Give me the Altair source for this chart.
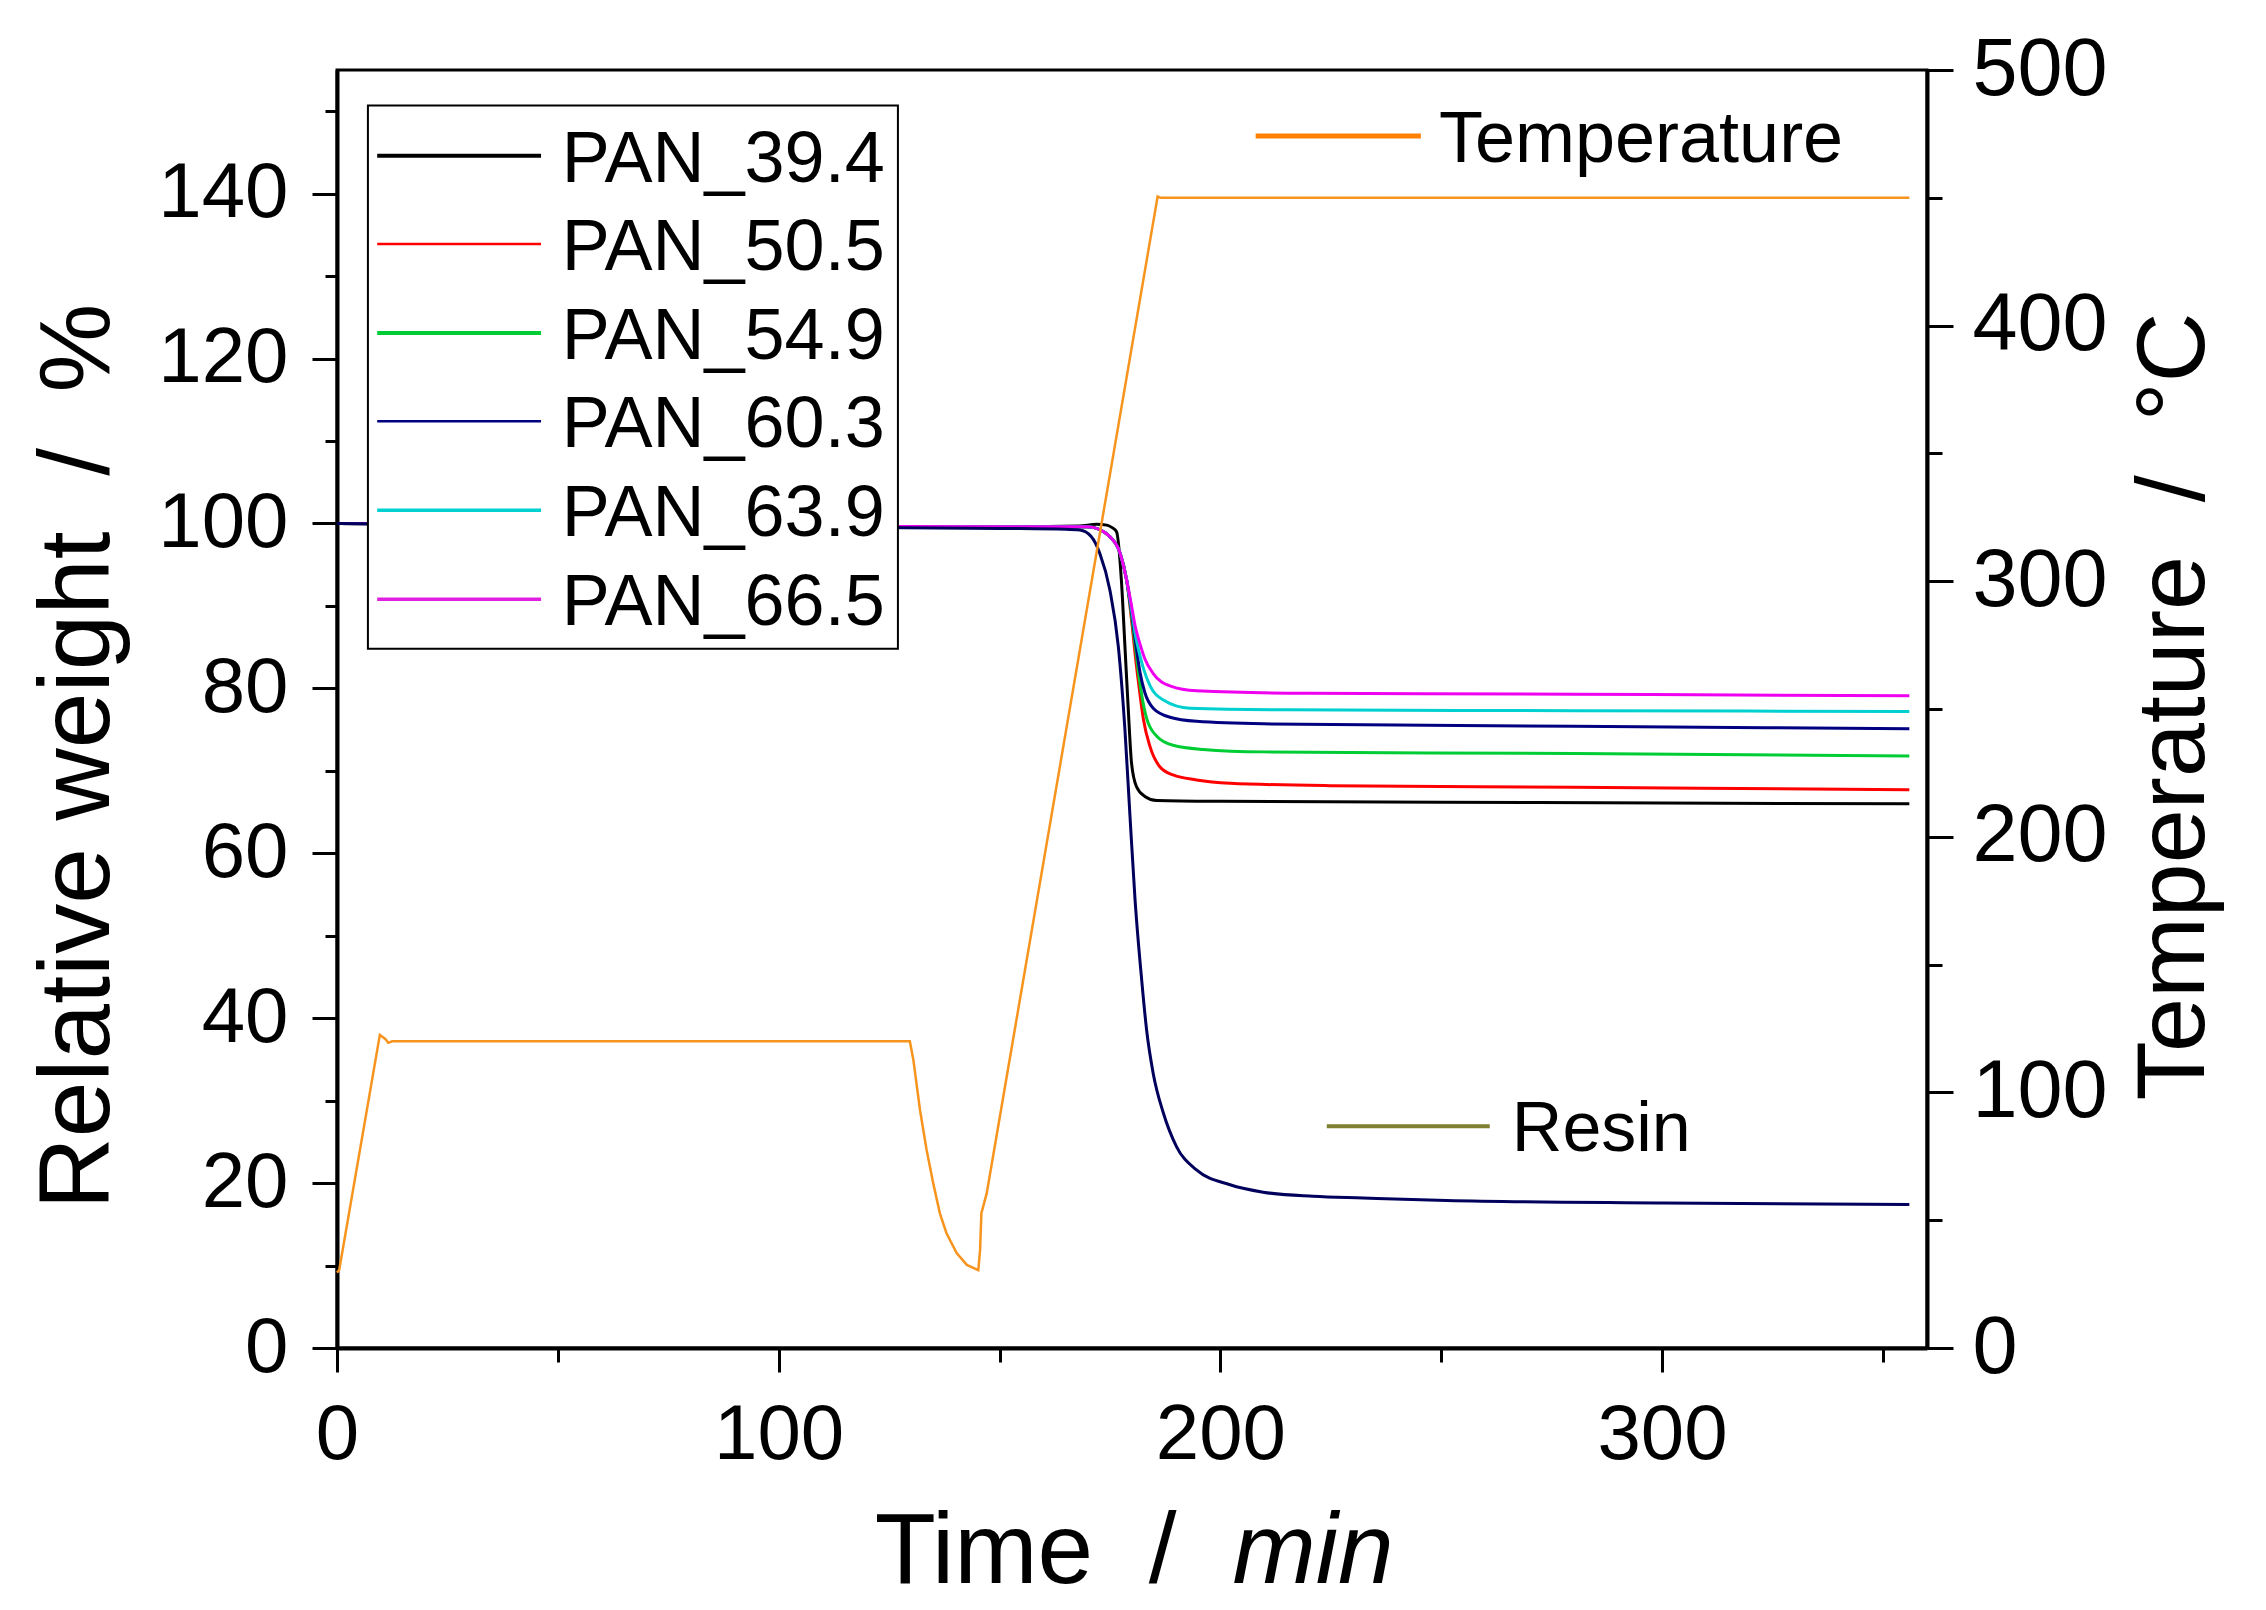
import altair as alt
import pandas as pd

# ---------------- data ----------------
series_names = ["PAN_39.4", "PAN_50.5", "PAN_54.9", "PAN_60.3", "PAN_63.9", "PAN_66.5", "Resin"]
series_colors = ["#000000", "#FF0000", "#00CC33", "#000080", "#00D0D0", "#F000F0", "#00005C"]

t_pan394 = [0, 40, 100, 150, 168, 172, 174.3, 175.5, 176.5, 177.6, 178.4, 179.2, 179.9, 181.0, 182.9, 185.6, 200, 250, 300, 356]
w_pan394 = [100, 99.9, 99.7, 99.6, 99.7, 99.9, 99.8, 99.5, 99.0, 93.1, 85.1, 77.0, 70.9, 68.1, 66.9, 66.4, 66.3, 66.2, 66.1, 66.0]

t_common = [0, 40, 100, 150, 170, 172.5, 175.0, 177.3, 178.8]
w_common = [100, 99.9, 99.7, 99.6, 99.6, 99.3, 98.4, 96.4, 93.1]

t_pan505 = [179.9, 180.7, 181.8, 182.6, 184.1, 186.3, 189.3, 194.6, 202.2, 224.8, 280, 356]
w_pan505 = [88.3, 84.2, 79.3, 76.2, 72.9, 70.5, 69.5, 68.9, 68.5, 68.2, 68.0, 67.7]

t_pan549 = [179.9, 180.7, 181.5, 182.2, 183.3, 185.6, 189.3, 196.1, 209.7, 280, 356]
w_pan549 = [88.8, 85.3, 81.8, 79.2, 76.4, 74.2, 73.1, 72.6, 72.3, 72.1, 71.8]

t_pan603 = [179.9, 180.7, 181.8, 182.9, 184.8, 188.6, 194.6, 209.7, 280, 356]
w_pan603 = [89.2, 86.0, 82.0, 79.5, 77.6, 76.5, 76.0, 75.7, 75.4, 75.1]

t_pan639 = [179.9, 180.7, 181.6, 182.6, 184.1, 187.1, 193.1, 215, 280, 356]
w_pan639 = [89.6, 86.7, 84.4, 82.4, 80.3, 78.6, 77.6, 77.4, 77.3, 77.2]

t_pan665 = [179.9, 180.7, 181.8, 182.9, 184.8, 188.6, 194.6, 220, 280, 356]
w_pan665 = [90.0, 87.6, 85.4, 83.6, 81.8, 80.3, 79.7, 79.4, 79.3, 79.1]

t_resin = [0, 40, 100, 150, 165, 168.2, 170.8, 172.7, 175.0, 176.9, 178.4, 179.5, 180.7, 182.2, 183.3, 184.8,
           187.1, 190.1, 194.6, 202.2, 209.7, 221.0, 232.3, 251.2, 300, 356]
w_resin = [100, 99.8, 99.6, 99.4, 99.3, 99.2, 98.4, 96.4, 91.9, 85.1, 75.0, 64.9, 54.3, 44.6, 38.6, 33.3,
           28.5, 24.4, 21.6, 19.8, 18.9, 18.4, 18.2, 17.9, 17.6, 17.4]

t_temp = [0, 0.5, 9.7, 11.0, 11.6, 12.5, 129.7, 130.5, 132.0, 133.5, 135.0, 136.5, 138.0, 140.3, 142.6, 145.2,
          145.6, 145.9, 147.1, 185.8, 186.5, 356]
temp_c = [29.5, 30.5, 122.5, 120.8, 119.4, 120.0, 120.0, 112.7, 93.1, 77.5, 64.4, 52.7, 44.9, 37.1, 32.5, 30.5,
          38.3, 52.7, 60.5, 450.5, 450.0, 450.0]

x_ticks = [0, 50, 100, 150, 200, 250, 300, 350]
yl_ticks = list(range(0, 151, 10))
yr_ticks = list(range(0, 501, 50))

# ---------------- tables ----------------
rows = []
def add(name, ts, ws):
    for t, w in zip(ts, ws):
        rows.append({"series": name, "t": t, "w": w})

add("PAN_39.4", t_pan394, w_pan394)
add("PAN_50.5", t_common + t_pan505, w_common + w_pan505)
add("PAN_54.9", t_common + t_pan549, w_common + w_pan549)
add("PAN_60.3", t_common + t_pan603, w_common + w_pan603)
add("PAN_63.9", t_common + t_pan639, w_common + w_pan639)
add("PAN_66.5", t_common + t_pan665, w_common + w_pan665)
add("Resin", t_resin, w_resin)
df_w = pd.DataFrame(rows)
df_t = pd.DataFrame({"t": t_temp, "T": temp_c})

# legend (placed in data units of the time / weight scales)
leg_names = series_names[:6]
leg_colors = series_colors[:5] + ["#E020E0"]
leg_rows = [144.6, 133.9, 123.1, 112.4, 101.6, 90.8]
leg_widths = [4, 2.5, 4, 2.5, 3.5, 3.5]
df_leg = pd.DataFrame({"name": leg_names, "color": leg_colors, "y": leg_rows, "sw": leg_widths,
                       "x1": 9.1, "x2": 46.2, "xt": 50.9})
df_box = pd.DataFrame({"x1": [7.0], "x2": [127.0], "y1": [84.8], "y2": [150.7]})
df_extra = pd.DataFrame({"name": ["Temperature", "Resin"], "color": ["#FF8000", "#7F7F30"],
                         "y": [147.0, 26.9], "x1": [208.0, 224.1], "x2": [245.4, 261.0],
                         "xt": [249.5, 266.0], "sw": [5, 4], "fs": [72, 70]})

FONT = "Liberation Sans"
XDOM = [0, 360]
WDOM = [0, 155]
TDOM = [0, 500]


def xs(field, axis=None):
    return alt.X(field, type="quantitative", scale=alt.Scale(domain=XDOM, nice=False, zero=False), axis=axis)


def ys(field, axis=None, dom=WDOM):
    return alt.Y(field, type="quantitative", scale=alt.Scale(domain=dom, nice=False, zero=False), axis=axis)


x_axis = alt.Axis(orient="bottom", values=x_ticks,
                  labelExpr="datum.value % 100 === 0 ? datum.label : ''",
                  tickSize={"condition": {"test": "datum.value % 100 === 0", "value": 24}, "value": 14},
                  labelFontSize=78, labelPadding=24, labelFlush=False, labelOverlap=False,
                  title="Time\u00a0\u00a0/", titleFontSize=100, titleAlign="right",
                  titleX=839, titleY=234, titleBaseline="alphabetic")

yl_axis = alt.Axis(orient="left", values=yl_ticks,
                   labelExpr="datum.value % 20 === 0 ? datum.label : ''",
                   tickSize={"condition": {"test": "datum.value % 20 === 0", "value": 25}, "value": 12},
                   labelFontSize=78, labelPadding=24, labelFlush=False, labelOverlap=False,
                   title="Relative weight\u00a0\u00a0/\u00a0\u00a0%", titleFontSize=100, titleAngle=270,
                   titleX=-229, titleY=686, titleAlign="center", titleBaseline="alphabetic")

yr_axis = alt.Axis(orient="right", values=yr_ticks,
                   labelExpr="datum.value % 100 === 0 ? datum.label : ''",
                   tickSize={"condition": {"test": "datum.value % 100 === 0", "value": 26}, "value": 15},
                   labelFontSize=81, labelPadding=19, labelFlush=False, labelOverlap=False,
                   title="Temperature\u00a0\u00a0/\u00a0\u00a0\u00b0C", titleFontSize=97, titleAngle=270,
                   titleX=276, titleY=636, titleAlign="center", titleBaseline="alphabetic")

min_axis = alt.Axis(orient="bottom", ticks=False, labels=False, domain=False,
                    title="min", titleFontSize=100, titleFontStyle="italic", titleAlign="left",
                    titleX=895, titleY=234, titleBaseline="alphabetic")

weights = alt.Chart(df_w).mark_line(strokeWidth=3, interpolate="monotone").encode(
    x=xs("t", x_axis),
    y=ys("w", yl_axis),
    color=alt.Color("series:N", scale=alt.Scale(domain=series_names, range=series_colors), legend=None),
    detail="series:N",
)

temperature = alt.Chart(df_t).mark_line(strokeWidth=2.5, color="#F7941E").encode(
    x=xs("t"),
    y=ys("T", yr_axis, TDOM),
)

box = alt.Chart(df_box).mark_rect(fill="white", stroke="black", strokeWidth=2).encode(
    x=xs("x1", min_axis), x2="x2", y=ys("y1"), y2="y2"
)

leg_lines = alt.Chart(df_leg).mark_rule().encode(
    x=xs("x1"), x2="x2", y=ys("y"),
    color=alt.Color("color:N", scale=None),
    strokeWidth=alt.StrokeWidth("sw:Q", scale=None),
)

leg_text = alt.Chart(df_leg).mark_text(align="left", baseline="middle", fontSize=72, font=FONT,
                                       color="black", dy=4).encode(
    x=xs("xt"), y=ys("y"), text="name:N"
)

extra_lines = alt.Chart(df_extra).mark_rule().encode(
    x=xs("x1"), x2="x2", y=ys("y"),
    color=alt.Color("color:N", scale=None),
    strokeWidth=alt.StrokeWidth("sw:Q", scale=None),
)

extra_text = alt.Chart(df_extra).mark_text(align="left", baseline="middle", font=FONT,
                                           color="black", dy=4).encode(
    x=xs("xt"), y=ys("y"), text="name:N",
    size=alt.Size("fs:Q", scale=None),
)

chart = alt.layer(weights, temperature, box, leg_lines, leg_text, extra_lines, extra_text).resolve_scale(
    x="independent", y="independent", color="independent", strokeWidth="independent"
).properties(
    width=1590, height=1278,
    padding={"left": 329, "top": 62, "right": 300, "bottom": 262},
    autosize=alt.AutoSizeParams(type="none"),
).configure_view(
    stroke="black", strokeWidth=3
).configure_axis(
    labelFont=FONT, titleFont=FONT, labelColor="black", titleColor="black",
    domainColor="black", domainWidth=4, tickColor="black", tickWidth=3,
    grid=False, titleFontWeight="normal",
).configure_text(font=FONT)

chart.save("out.html", embed_options={"renderer": "svg", "actions": False})
